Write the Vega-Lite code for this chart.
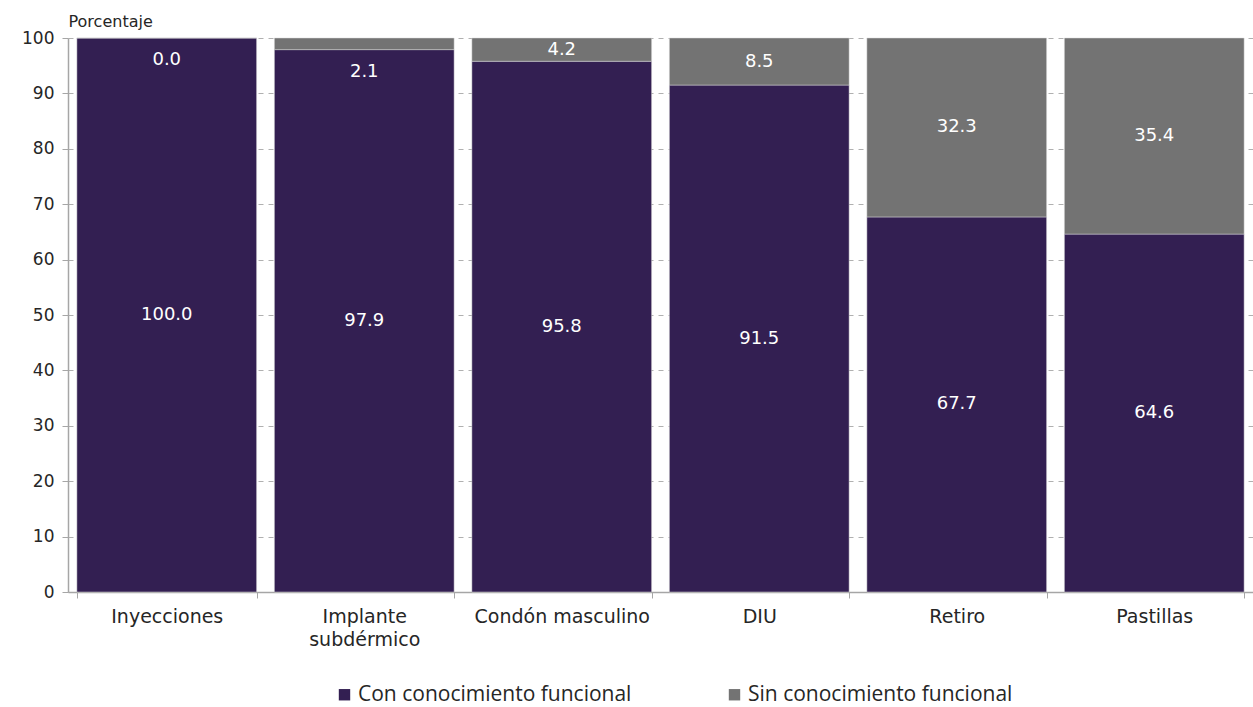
{
  "$schema": "https://vega.github.io/schema/vega-lite/v6.json",
  "width": 1185,
  "height": 554,
  "autosize": {"type": "none"},
  "padding": {"left": 68, "top": 38, "right": 0, "bottom": 115},
  "background": "#ffffff",
  "config": {
    "view": {"stroke": null},
    "font": "DejaVu Sans"
  },
  "data": {
    "values": [
      {"metodo": "Inyecciones", "serie": "Con conocimiento funcional", "valor": 100.0},
      {"metodo": "Inyecciones", "serie": "Sin conocimiento funcional", "valor": 0.0},
      {"metodo": "Implante subdérmico", "serie": "Con conocimiento funcional", "valor": 97.9},
      {"metodo": "Implante subdérmico", "serie": "Sin conocimiento funcional", "valor": 2.1},
      {"metodo": "Condón masculino", "serie": "Con conocimiento funcional", "valor": 95.8},
      {"metodo": "Condón masculino", "serie": "Sin conocimiento funcional", "valor": 4.2},
      {"metodo": "DIU", "serie": "Con conocimiento funcional", "valor": 91.5},
      {"metodo": "DIU", "serie": "Sin conocimiento funcional", "valor": 8.5},
      {"metodo": "Retiro", "serie": "Con conocimiento funcional", "valor": 67.7},
      {"metodo": "Retiro", "serie": "Sin conocimiento funcional", "valor": 32.3},
      {"metodo": "Pastillas", "serie": "Con conocimiento funcional", "valor": 64.6},
      {"metodo": "Pastillas", "serie": "Sin conocimiento funcional", "valor": 35.4}
    ]
  },
  "encoding": {
    "x": {
      "field": "metodo",
      "type": "nominal",
      "sort": null,
      "scale": {"paddingInner": 0.09, "paddingOuter": 0.045},
      "axis": {
        "title": null,
        "labelAngle": 0,
        "labelFontSize": 19,
        "labelColor": "#262626",
        "labelPadding": 9,
        "labelLineHeight": 23,
        "labelExpr": "datum.label == 'Implante subdérmico' ? ['Implante', 'subdérmico'] : datum.label",
        "tickBand": "extent",
        "tickColor": "#a6a6a6",
        "tickSize": 6,
        "domainColor": "#a6a6a6",
        "domainWidth": 1.5
      }
    }
  },
  "layer": [
    {
      "mark": {"type": "bar", "stroke": "#d9d9d9", "strokeWidth": 0.5},
      "encoding": {
        "y": {
          "field": "valor",
          "type": "quantitative",
          "stack": "zero",
          "scale": {"domain": [0, 100], "nice": false},
          "axis": {
            "values": [0, 10, 20, 30, 40, 50, 60, 70, 80, 90, 100],
            "title": "Porcentaje",
            "titleAngle": 0,
            "titleAlign": "left",
            "titleBaseline": "bottom",
            "titleX": 0,
            "titleY": -9,
            "titleFontSize": 16,
            "titleFontWeight": "normal",
            "titleColor": "#262626",
            "labelFontSize": 17,
            "labelColor": "#262626",
            "labelPadding": 8,
            "tickColor": "#a6a6a6",
            "tickSize": 6,
            "domainColor": "#a6a6a6",
            "domainWidth": 1.5,
            "grid": true,
            "gridColor": "#b0b0b0",
            "gridDash": [5, 5],
            "gridWidth": 1
          }
        },
        "order": {"field": "serie", "sort": "ascending"},
        "color": {
          "field": "serie",
          "type": "nominal",
          "scale": {
            "domain": ["Con conocimiento funcional", "Sin conocimiento funcional"],
            "range": ["#331f52", "#737373"]
          },
          "legend": {
            "orient": "none",
            "legendX": 266,
            "legendY": 646,
            "direction": "horizontal",
            "title": null,
            "symbolType": "square",
            "symbolSize": 130,
            "symbolStrokeWidth": 0,
            "labelFont": "Open Sans",
            "labelFontSize": 21,
            "labelLimit": 500,
            "labelColor": "#262626",
            "labelOffset": 3,
            "columnPadding": 92
          }
        }
      }
    },
    {
      "transform": [
        {"stack": "valor", "groupby": ["metodo"], "sort": [{"field": "serie", "order": "ascending"}], "as": ["y0", "y1"]},
        {"calculate": "datum.serie == 'Sin conocimiento funcional' && datum.valor < 3 ? 96 - datum.valor : (datum.y0 + datum.y1) / 2", "as": "ylab"}
      ],
      "mark": {"type": "text", "color": "#ffffff", "fontSize": 18, "baseline": "middle"},
      "encoding": {
        "y": {"field": "ylab", "type": "quantitative"},
        "text": {"field": "valor", "type": "quantitative", "format": ".1f"}
      }
    }
  ]
}
